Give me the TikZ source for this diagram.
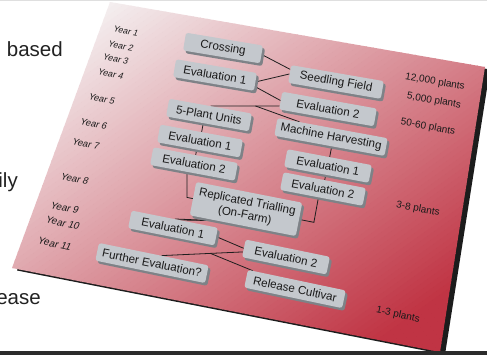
\documentclass[tikz,border=0pt]{standalone}
\usepackage{fontspec}
\setmainfont{Liberation Sans}
\usetikzlibrary{calc,shadows}
\definecolor{boardlight}{HTML}{F4EFF0}
\definecolor{boarddark}{HTML}{C03444}
\definecolor{boardshadow}{HTML}{1C1C1C}
\definecolor{boxface}{HTML}{C4C8CD}
\definecolor{boxside}{HTML}{7E8287}
\definecolor{linecol}{HTML}{1E1E1E}
\definecolor{txtcol}{HTML}{1A1A1A}
\definecolor{slidetext}{HTML}{222222}
\definecolor{rulecol}{HTML}{2B2B2B}
\pgfdeclarelayer{boardlayer}
\pgfdeclarelayer{linelayer}
\pgfsetlayers{boardlayer,linelayer,main}
\begin{document}
\begin{tikzpicture}[x=1pt,y=-1pt,
  bx/.style={transform shape, rotate=-#1, fill=boxface, text=txtcol,
    rounded corners=2.5pt, minimum height=18pt, inner xsep=3pt, inner ysep=2pt,
    font=\fontsize{11.6}{13.6}\selectfont,
    drop shadow={shadow xshift=2.2pt, shadow yshift=-2.8pt, opacity=1, fill=boxside}},
  yr/.style n args={2}{transform shape, rotate=-#1, xslant=0.22, text=txtcol,
    font=\fontsize{#2}{10}\selectfont, inner sep=0pt},
  pl/.style={transform shape, rotate=-#1, text=txtcol,
    font=\fontsize{10}{11}\selectfont, inner sep=0pt},
  side/.style={anchor=base east, inner sep=0pt, text=slidetext,
    font=\fontsize{20.5}{22}\selectfont},
  conn/.style={draw=linecol, line width=0.8pt}]
\useasboundingbox (0,0) rectangle (487,356);

% ---------- board ----------
\begin{pgfonlayer}{boardlayer}
  \fill[white] (0,0) rectangle (487,356);
  \draw[gray!25, line width=1pt] (0,0.5) -- (487,0.5);
  \fill[boardshadow] (115,4.5) -- (490,69.5) -- (445,354.5) -- (17,270.5) -- cycle;
  \begin{scope}
    \clip (110,2) -- (485,67) -- (440,352) -- (12,268) -- cycle;
    \begin{scope}[shift={(110,2)}, rotate=-54.5]
      \foreach \i in {0,...,109} {
        \pgfmathsetmacro\xa{-30+\i*5}
        \pgfmathsetmacro\p{max(0,min(100,(\xa+2.5)/4.31))}
        \fill[boarddark!\p!boardlight] (\xa,-700) rectangle (\xa+5.6,700);
      }
    \end{scope}
  \end{scope}
  \fill[rulecol] (0,351) rectangle (487,355);
\end{pgfonlayer}

% ---------- slide text cut off at the left ----------
\node[side] (t1) at (63,56) {based};
\node[side] (t2) at (18,187) {ily};
\node[side] (t3) at (41,304) {ease};

% ---------- year labels ----------
\node[yr={9.6}{8.6}]  (y1)  at (126,31)  {Year 1};
\node[yr={9.7}{8.7}]  (y2)  at (121,46)  {Year 2};
\node[yr={9.8}{8.8}]  (y3)  at (116,59)  {Year 3};
\node[yr={10}{8.9}]   (y4)  at (111,74)  {Year 4};
\node[yr={10.2}{9.1}] (y5)  at (102,99)  {Year 5};
\node[yr={10.5}{9.3}] (y6)  at (94,124)  {Year 6};
\node[yr={10.7}{9.4}] (y7)  at (86,144)  {Year 7};
\node[yr={11}{9.6}]   (y8)  at (75,179)  {Year 8};
\node[yr={11.3}{9.8}] (y9)  at (65,208)  {Year 9};
\node[yr={11.4}{9.9}] (y10) at (63,223)  {Year 10};
\node[yr={11.6}{10}]  (y11) at (55,244)  {Year 11};

% ---------- plant numbers ----------
\node[pl=9.8]  (p1) at (435,82)  {12,000 plants};
\node[pl=10]   (p2) at (434,101) {5,000 plants};
\node[pl=10.3] (p3) at (428,127) {50-60 plants};
\node[pl=11.1] (p4) at (418,209) {3-8 plants};
\node[pl=12]   (p5) at (398,315) {1-3 plants};

% ---------- boxes ----------
\node[bx=9.5,  minimum width=78pt]  (crossing) at (223,48)  {Crossing};
\node[bx=9.7,  minimum width=82pt]  (evAT)     at (215,75)  {Evaluation 1};
\node[bx=9.8,  minimum width=94pt]  (seed)     at (336,82)  {Seedling Field};
\node[bx=10.1, minimum width=96pt]  (evBT)     at (328,109) {Evaluation 2};
\node[bx=10.2, minimum width=84pt]  (plant5)   at (209,115) {5-Plant Units};
\node[bx=10.4, minimum width=112pt] (mach)     at (331,137) {Machine Harvesting};
\node[bx=10.4, minimum width=84pt]  (evAL)     at (200,141) {Evaluation 1};
\node[bx=10.6, minimum width=86pt]  (evBL)     at (194,164) {Evaluation 2};
\node[bx=10.7, minimum width=86pt]  (evAR)     at (328,166) {Evaluation 1};
\node[bx=10.9, minimum width=84pt]  (evBR)     at (323,189) {Evaluation 2};
\node[bx=11.1, minimum width=108pt, minimum height=34pt, align=center] (repl) at (246,209)
  {Replicated Trialling\\(On-Farm)};
\node[bx=11.3, minimum width=88pt]  (evAB)     at (173,228) {Evaluation 1};
\node[bx=11.6, minimum width=112pt] (further)  at (152,263) {Further Evaluation?};
\node[bx=11.6, minimum width=86pt]  (evBB)     at (286,257) {Evaluation 2};
\node[bx=11.9, minimum width=100pt] (release)  at (295,289) {Release Cultivar};

% ---------- connectors (behind the boxes) ----------
\begin{pgfonlayer}{linelayer}
  \draw[conn] (crossing.east) -- ($(seed.west)!0.5!(seed.north west)$);
  \draw[conn] (evAT.east) -- (seed.west);
  \draw[conn] ($(evAT.east)!0.5!(evAT.south east)$) -- (evBT.west);
  \draw[conn] (plant5.north) -- coordinate[pos=0.65] (j1) ($(evBT.west)!0.6!(evBT.south west)$);
  \draw[conn] (j1) -- ($(mach.north west)!0.2!(mach.north east)$);
  \draw[conn] (evAL.center) -- ($(evAL.center)!2.6!(evAL.north)$);
  \draw[conn] (evBL.center) -- ($(evBL.center)!2.6!(evBL.north)$);
  \draw[conn] (evAR.center) -- ($(evAR.center)!2.6!(evAR.north)$);
  \draw[conn] (evBR.center) -- ($(evBR.center)!2.6!(evBR.north)$);
  \draw[conn] ($(evBL.center)!7pt!(evBL.west)$) -- ($(repl.west)!-6pt!(repl.east)$) -- (repl.west);
  \draw[conn] ($(evBR.center)!3pt!(evBR.west)$) -- ($(repl.east)!-15pt!(repl.west)$) -- (repl.east);
  \draw[conn] ($(repl.south west)!0.25!(repl.south east)$) -- (evAB.north);
  \draw[conn] ($(repl.south west)!0.25!(repl.south east)$) -- ($(evAB.north)!5pt!(evAB.north east)$);
  \draw[conn] (evAB.east) -- (evBB.west);
  \draw[conn] ($(further.north)!8pt!(further.north east)$) -- coordinate[pos=0.6] (j2) ($(evBB.west)!0.4!(evBB.south west)$);
  \draw[conn] (j2) -- ($(release.north west)!0.05!(release.north east)$);
\end{pgfonlayer}
\end{tikzpicture}
\end{document}
